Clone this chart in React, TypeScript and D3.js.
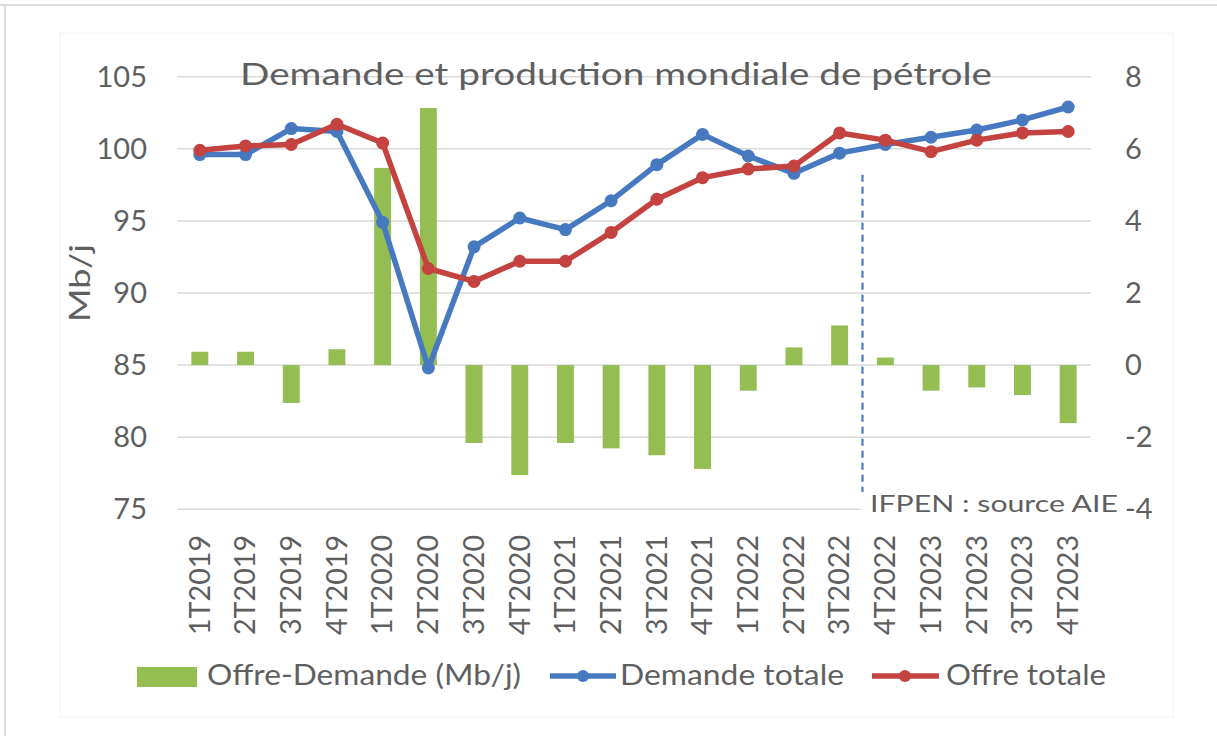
import React from "react";
import * as d3 from "d3";

// quarterly world oil demand / supply (Mb/j)
const quarters = [
  "1T2019", "2T2019", "3T2019", "4T2019",
  "1T2020", "2T2020", "3T2020", "4T2020",
  "1T2021", "2T2021", "3T2021", "4T2021",
  "1T2022", "2T2022", "3T2022", "4T2022",
  "1T2023", "2T2023", "3T2023", "4T2023",
];
const offreDemande = [
  0.37, 0.37, -1.05, 0.44, 5.47, 7.13, -2.16, -3.05, -2.16, -2.31,
  -2.5, -2.88, -0.71, 0.49, 1.1, 0.21, -0.71, -0.62, -0.83, -1.61,
];
const demandeTotale = [
  99.6, 99.6, 101.4, 101.2, 94.9, 84.8, 93.2, 95.2, 94.4, 96.4,
  98.9, 101.0, 99.5, 98.3, 99.7, 100.3, 100.8, 101.3, 102.0, 102.9,
];
const offreTotale = [
  99.9, 100.2, 100.3, 101.7, 100.4, 91.7, 90.8, 92.2, 92.2, 94.2,
  96.5, 98.0, 98.6, 98.8, 101.1, 100.6, 99.8, 100.6, 101.1, 101.2,
];
const leftTicks = [75, 80, 85, 90, 95, 100, 105];
const rightTicks = [-4, -2, 0, 2, 4, 6, 8];
const forecastStart = "4T2022";
const forecastSpan = [98.2, 76.2]; // in Mb/j, left axis

const WIDTH = 1217;
const HEIGHT = 736;
const plot = { left: 177, right: 1091, top: 76.7, bottom: 509.3 };

const FONT = "Lato, 'Open Sans', sans-serif";
const TEXT = "#5f5f5f";
const GREEN = "#94bd52";
const BLUE = "#4679c0";
const RED = "#c4423f";
const GRID = "#d9d9d9";

const App = () => {
  const x = d3
    .scaleBand<string>()
    .domain(quarters)
    .range([plot.left, plot.right])
    .paddingInner(0.63)
    .paddingOuter(0.315);
  const cx = (q: string) => (x(q) as number) + x.bandwidth() / 2;

  const yLeft = d3.scaleLinear().domain([75, 105]).range([plot.bottom, plot.top]);
  const yRight = d3.scaleLinear().domain([-4, 8]).range([plot.bottom, plot.top]);

  const line = d3
    .line<number>()
    .x((_, i) => cx(quarters[i]))
    .y((d) => yLeft(d));

  const series = [
    { name: "Demande totale", values: demandeTotale, color: BLUE },
    { name: "Offre totale", values: offreTotale, color: RED },
  ];

  const iFc = quarters.indexOf(forecastStart);
  const xFc = (cx(quarters[iFc - 1]) + cx(quarters[iFc])) / 2;

  return (
    <svg
      width={WIDTH}
      height={HEIGHT}
      style={{ position: "absolute", left: 0, top: 0, background: "#fff" }}
      fontFamily={FONT}
    >
      {/* frame */}
      <line x1={0} x2={WIDTH} y1={5} y2={5} stroke="#dcdcdc" strokeWidth={2} />
      <line x1={5} x2={5} y1={5} y2={HEIGHT} stroke="#dcdcdc" strokeWidth={2} />
      <rect x={60} y={33} width={1113} height={684} fill="none" stroke="#f3f3f3" />

      {/* grid */}
      {leftTicks.map((t) => (
        <line
          key={`g-${t}`}
          x1={plot.left}
          x2={plot.right}
          y1={yLeft(t)}
          y2={yLeft(t)}
          stroke={GRID}
          strokeWidth={1.5}
        />
      ))}

      {/* left ticks */}
      {leftTicks.map((t) => (
        <text
          key={`l-${t}`}
          x={147}
          y={yLeft(t)}
          dy="0.35em"
          textAnchor="end"
          fontSize={29}
          fill={TEXT}
        >
          {t}
        </text>
      ))}

      {/* right ticks */}
      {rightTicks.map((t) => (
        <text
          key={`r-${t}`}
          x={1125}
          y={yRight(t)}
          dy="0.35em"
          fontSize={29}
          fill={TEXT}
        >
          {t}
        </text>
      ))}

      {/* title */}
      <text
        x={240}
        y={85}
        fontSize={30}
        fill={TEXT}
        textLength={752}
        lengthAdjust="spacingAndGlyphs"
      >
        Demande et production mondiale de pétrole
      </text>

      {/* y title */}
      <text
        transform={`translate(80, 283) rotate(-90)`}
        textAnchor="middle"
        dy="0.35em"
        fontSize={28}
        fill={TEXT}
        textLength={78}
        lengthAdjust="spacingAndGlyphs"
      >
        Mb/j
      </text>

      {/* bars */}
      {offreDemande.map((v, i) => (
        <rect
          key={`b-${quarters[i]}`}
          x={x(quarters[i])}
          y={yRight(Math.max(0, v))}
          width={x.bandwidth()}
          height={Math.abs(yRight(v) - yRight(0))}
          fill={GREEN}
        />
      ))}

      {/* forecast separator */}
      <line
        x1={xFc}
        x2={xFc}
        y1={yLeft(forecastSpan[0])}
        y2={yLeft(forecastSpan[1])}
        stroke={BLUE}
        strokeWidth={2.2}
        strokeDasharray="7,5"
      />

      {/* lines */}
      {series.map((s) => (
        <g key={s.name}>
          <path
            d={line(s.values) as string}
            fill="none"
            stroke={s.color}
            strokeWidth={5.5}
            strokeLinejoin="round"
          />
          {s.values.map((v, i) => (
            <circle key={i} cx={cx(quarters[i])} cy={yLeft(v)} r={6.5} fill={s.color} />
          ))}
        </g>
      ))}

      {/* category labels */}
      {quarters.map((q) => (
        <text
          key={`c-${q}`}
          transform={`translate(${cx(q)}, 535) rotate(-90)`}
          textAnchor="end"
          dy="0.35em"
          fontSize={28}
          fill={TEXT}
          textLength={100}
          lengthAdjust="spacingAndGlyphs"
        >
          {q}
        </text>
      ))}

      {/* source */}
      <rect x={xFc - 2} y={494} width={258} height={24} fill="#fff" />
      <text
        x={870}
        y={512}
        fontSize={24}
        fill={TEXT}
        textLength={248}
        lengthAdjust="spacingAndGlyphs"
      >
        IFPEN : source AIE
      </text>

      {/* legend */}
      <g>
        <rect x={137} y={667} width={60} height={20} fill={GREEN} />
        <text
          x={207}
          y={685}
          fontSize={28}
          fill={TEXT}
          textLength={314}
          lengthAdjust="spacingAndGlyphs"
        >
          Offre-Demande (Mb/j)
        </text>

        <line x1={550} x2={616} y1={676} y2={676} stroke={BLUE} strokeWidth={5.5} />
        <circle cx={583} cy={676} r={6} fill={BLUE} />
        <text
          x={620}
          y={685}
          fontSize={28}
          fill={TEXT}
          textLength={224}
          lengthAdjust="spacingAndGlyphs"
        >
          Demande totale
        </text>

        <line x1={872} x2={939} y1={676} y2={676} stroke={RED} strokeWidth={5.5} />
        <circle cx={905} cy={676} r={6} fill={RED} />
        <text
          x={946}
          y={685}
          fontSize={28}
          fill={TEXT}
          textLength={160}
          lengthAdjust="spacingAndGlyphs"
        >
          Offre totale
        </text>
      </g>
    </svg>
  );
};

export default App;
